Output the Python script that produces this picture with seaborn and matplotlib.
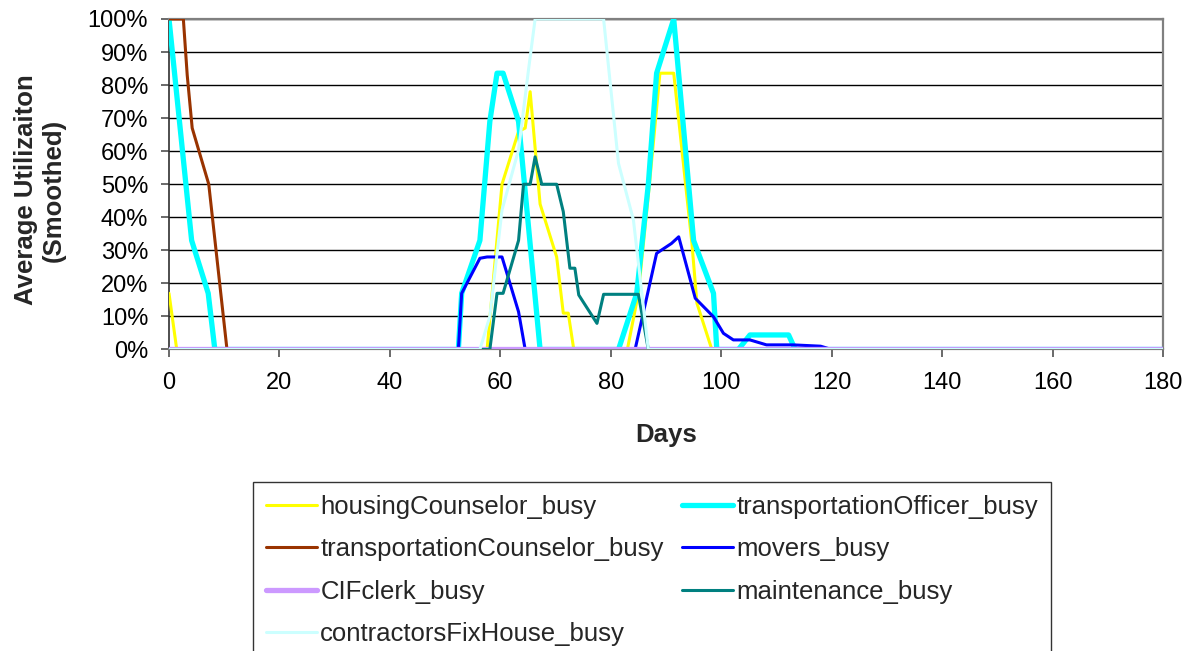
import matplotlib
matplotlib.use("Agg")
import matplotlib.pyplot as plt
from matplotlib.ticker import PercentFormatter, MultipleLocator
import seaborn as sns
import pandas as pd

# ---------------- data (days, smoothed utilisation in %) ----------------
housing_days = [0, 1.4, 57.6, 60.3, 63.3, 64.5, 65.4, 67.2, 70.2, 71.4, 72.3, 73.3,
                83.0, 85.0, 87.0, 88.9, 91.4, 94.7, 95.6, 98.3, 180]
housing_vals = [17, 0, 0, 50, 66, 67, 78, 44, 28, 11, 11, 0,
                0, 17, 50, 83.6, 83.6, 32, 14, 0, 0]

officer_days = [0, 4.1, 7.1, 8.3, 52.4, 53.0, 56.3, 58.1, 59.4, 60.5, 63.3, 67.2,
                81.4, 84.7, 86.8, 88.3, 91.4, 95.0, 98.6, 99.2, 103.1, 105.2, 112.2, 113.4, 180]
officer_vals = [100, 33, 17, 0, 0, 17, 33, 69, 83.6, 83.6, 69, 0,
                0, 17, 50, 83.6, 100, 33, 17, 0, 0, 4.4, 4.4, 0, 0]

tcouns_days = [0, 2.6, 3.3, 4.2, 7.2, 10.5, 180]
tcouns_vals = [100, 100, 83, 67, 50, 0, 0]

movers_days = [0, 52.4, 53.0, 56.3, 57.6, 60.3, 63.3, 64.5,
               84.4, 88.3, 91.0, 92.3, 95.3, 98.6, 100.4, 102.2, 105.2, 108.2, 113.0, 118.0, 120.0, 180]
movers_vals = [0, 0, 17, 27.6, 28, 28, 11.4, 0,
               0, 29.1, 32.1, 34.1, 15.5, 9.9, 4.9, 2.9, 2.9, 1.4, 1.4, 1.0, 0, 0]

cif_days = [0, 180]
cif_vals = [0, 0]

maint_days = [0, 58.1, 59.4, 60.5, 63.3, 64.2, 65.4, 66.3, 67.5, 70.2, 71.4, 72.6, 73.5,
              74.2, 77.5, 78.7, 85.0, 86.8, 180]
maint_vals = [0, 0, 17, 17, 33, 50, 50, 58.3, 50, 50, 41.7, 24.6, 24.6,
              16.5, 7.9, 16.7, 16.7, 0, 0]

contr_days = [0, 56.3, 58.1, 60.3, 63.3, 65.1, 66.3, 78.7, 81.4, 84.1, 86.8, 180]
contr_vals = [0, 0, 10, 42.2, 60.4, 84.6, 100, 100, 56.3, 39.2, 0, 0]

series_names = ["housingCounselor_busy", "transportationOfficer_busy",
                "transportationCounselor_busy", "movers_busy", "CIFclerk_busy",
                "maintenance_busy", "contractorsFixHouse_busy"]
series_days = [housing_days, officer_days, tcouns_days, movers_days, cif_days, maint_days, contr_days]
series_vals = [housing_vals, officer_vals, tcouns_vals, movers_vals, cif_vals, maint_vals, contr_vals]

x_ticks = [0, 20, 40, 60, 80, 100, 120, 140, 160, 180]

# ---------------- styling ----------------
colors = ["#FFFF00", "#00FFFF", "#993300", "#0000FF", "#CC99FF", "#008080", "#CCFFFF"]
widths = [2.2, 3.8, 2.2, 2.2, 3.8, 2.2, 2.2]

sns.set_style("white")
plt.rcParams["font.family"] = ["Liberation Sans", "DejaVu Sans"]

fig = plt.figure(figsize=(11.91, 6.51), dpi=100)
ax = fig.add_axes([169 / 1191, 1 - 349.5 / 651, (1163 - 169) / 1191, (349.5 - 19) / 651])

handles = []
for name, d, v, c, w in zip(series_names, series_days, series_vals, colors, widths):
    df = pd.DataFrame({"day": d, "util": v})
    sns.lineplot(data=df, x="day", y="util", color=c, linewidth=w, ax=ax,
                 label=name, estimator=None, sort=False, zorder=3)
    handles.append(ax.get_lines()[-1])

ax.set_xlim(0, 180)
ax.set_ylim(0, 100)
ax.set_xticks(x_ticks)
ax.yaxis.set_major_locator(MultipleLocator(10))
ax.yaxis.set_major_formatter(PercentFormatter(xmax=100, decimals=0))

ax.yaxis.grid(True, color="black", linewidth=1.0, zorder=0)
ax.xaxis.grid(False)
ax.set_axisbelow(True)

for side in ["top", "right", "bottom"]:
    ax.spines[side].set_color("#808080")
    ax.spines[side].set_linewidth(1.6)
ax.spines["left"].set_color("#303030")
ax.spines["left"].set_linewidth(1.2)

ax.tick_params(axis="both", which="major", direction="out", length=6, width=1.2,
               color="#505050", labelsize=17, labelcolor="black")
ax.tick_params(axis="y", pad=9, left=True)
ax.tick_params(axis="x", pad=10, bottom=True)

ax.set_xlabel("Days", fontsize=18.5, fontweight="bold")
ax.xaxis.set_label_coords(0.5, (349.5 - 435) / 330.5)
ax.xaxis.label.set_va("center")
ax.set_ylabel("Average Utilizaiton\n(Smoothed)", fontsize=18.5, fontweight="bold",
              linespacing=1.2, ha="center")
ax.yaxis.set_label_coords((40 - 169) / 994, (349.5 - 190) / 330.5)
ax.yaxis.label.set_va("center")

# legend: row-wise order like the reference
order = [0, 2, 4, 6, 1, 3, 5]
if ax.get_legend() is not None:
    ax.get_legend().remove()
leg = fig.legend([handles[i] for i in order], [series_names[i] for i in order],
                 loc="upper left", bbox_to_anchor=(253 / 1191, 1 - 482 / 651),
                 bbox_transform=fig.transFigure, ncol=2, frameon=True, fancybox=False,
                 edgecolor="black", fontsize=18.5, handlelength=2.0, handletextpad=0.12,
                 columnspacing=0.7, labelspacing=0.72, borderpad=0.5, borderaxespad=0)
leg.get_frame().set_linewidth(1.0)

fig.savefig("out.png", dpi=100)
